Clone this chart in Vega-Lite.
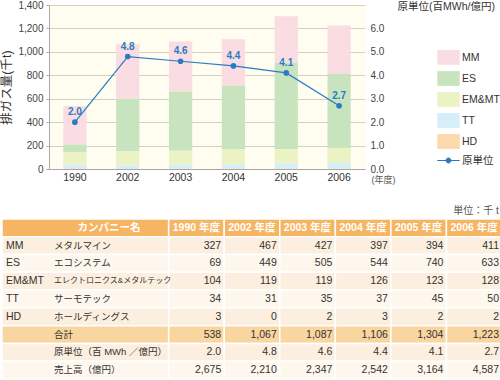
{
  "$schema": "https://vega.github.io/schema/vega-lite/v6.json",
  "padding": 0,
  "config": {
    "font": "Liberation Sans, Noto Sans CJK JP",
    "view": {"stroke": null}
  },
  "datasets": {
    "bars": [
      {"year": "1990", "company": "MM", "rank": 5, "value": 327},
      {"year": "1990", "company": "ES", "rank": 4, "value": 69},
      {"year": "1990", "company": "EM&MT", "rank": 3, "value": 104},
      {"year": "1990", "company": "TT", "rank": 2, "value": 34},
      {"year": "1990", "company": "HD", "rank": 1, "value": 3},
      {"year": "2002", "company": "MM", "rank": 5, "value": 467},
      {"year": "2002", "company": "ES", "rank": 4, "value": 449},
      {"year": "2002", "company": "EM&MT", "rank": 3, "value": 119},
      {"year": "2002", "company": "TT", "rank": 2, "value": 31},
      {"year": "2002", "company": "HD", "rank": 1, "value": 0},
      {"year": "2003", "company": "MM", "rank": 5, "value": 427},
      {"year": "2003", "company": "ES", "rank": 4, "value": 505},
      {"year": "2003", "company": "EM&MT", "rank": 3, "value": 119},
      {"year": "2003", "company": "TT", "rank": 2, "value": 35},
      {"year": "2003", "company": "HD", "rank": 1, "value": 2},
      {"year": "2004", "company": "MM", "rank": 5, "value": 397},
      {"year": "2004", "company": "ES", "rank": 4, "value": 544},
      {"year": "2004", "company": "EM&MT", "rank": 3, "value": 126},
      {"year": "2004", "company": "TT", "rank": 2, "value": 37},
      {"year": "2004", "company": "HD", "rank": 1, "value": 3},
      {"year": "2005", "company": "MM", "rank": 5, "value": 394},
      {"year": "2005", "company": "ES", "rank": 4, "value": 740},
      {"year": "2005", "company": "EM&MT", "rank": 3, "value": 123},
      {"year": "2005", "company": "TT", "rank": 2, "value": 45},
      {"year": "2005", "company": "HD", "rank": 1, "value": 2},
      {"year": "2006", "company": "MM", "rank": 5, "value": 411},
      {"year": "2006", "company": "ES", "rank": 4, "value": 633},
      {"year": "2006", "company": "EM&MT", "rank": 3, "value": 128},
      {"year": "2006", "company": "TT", "rank": 2, "value": 50},
      {"year": "2006", "company": "HD", "rank": 1, "value": 2}
    ],
    "unit": [
      {"year": "1990", "unit": 2.0},
      {"year": "2002", "unit": 4.8},
      {"year": "2003", "unit": 4.6},
      {"year": "2004", "unit": 4.4},
      {"year": "2005", "unit": 4.1},
      {"year": "2006", "unit": 2.7}
    ],
    "rows": [
      {"r": 0, "kind": "head", "code": "", "name": "カンパニー名", "v1990": "1990 年度", "v2002": "2002 年度", "v2003": "2003 年度", "v2004": "2004 年度", "v2005": "2005 年度", "v2006": "2006 年度"},
      {"r": 1, "kind": "a", "code": "MM", "name": "メタルマイン", "v1990": "327", "v2002": "467", "v2003": "427", "v2004": "397", "v2005": "394", "v2006": "411"},
      {"r": 2, "kind": "b", "code": "ES", "name": "エコシステム", "v1990": "69", "v2002": "449", "v2003": "505", "v2004": "544", "v2005": "740", "v2006": "633"},
      {"r": 3, "kind": "a", "code": "EM&MT", "name": "エレクトロニクス&メタルテック", "v1990": "104", "v2002": "119", "v2003": "119", "v2004": "126", "v2005": "123", "v2006": "128"},
      {"r": 4, "kind": "b", "code": "TT", "name": "サーモテック", "v1990": "34", "v2002": "31", "v2003": "35", "v2004": "37", "v2005": "45", "v2006": "50"},
      {"r": 5, "kind": "a", "code": "HD", "name": "ホールディングス", "v1990": "3", "v2002": "0", "v2003": "2", "v2004": "3", "v2005": "2", "v2006": "2"},
      {"r": 6, "kind": "total", "code": "", "name": "合計", "v1990": "538", "v2002": "1,067", "v2003": "1,087", "v2004": "1,106", "v2005": "1,304", "v2006": "1,223"},
      {"r": 7, "kind": "a", "code": "", "name": "原単位（百 MWh ／億円）", "v1990": "2.0", "v2002": "4.8", "v2003": "4.6", "v2004": "4.4", "v2005": "4.1", "v2006": "2.7"},
      {"r": 8, "kind": "b", "code": "", "name": "売上高（億円）", "v1990": "2,675", "v2002": "2,210", "v2003": "2,347", "v2004": "2,542", "v2005": "3,164", "v2006": "4,587"}
    ],
    "cols": [
      {"col": "v1990", "c0": 3, "c1": 4},
      {"col": "v2002", "c0": 4, "c1": 5},
      {"col": "v2003", "c0": 5, "c1": 6},
      {"col": "v2004", "c0": 6, "c1": 7},
      {"col": "v2005", "c0": 7, "c1": 8},
      {"col": "v2006", "c0": 8, "c1": 9}
    ]
  },
  "concat": [
    {
      "width": 316,
      "height": 164,
      "view": {"fill": "#fffdf0", "stroke": null},
      "encoding": {
        "x": {
          "field": "year", "type": "nominal", "title": "(年度)",
          "scale": {"paddingInner": 0.56, "paddingOuter": 0.27},
          "axis": {"labelAngle": 0, "labelFontSize": 10.5, "labelColor": "#333", "ticks": false, "domainColor": "#a8a8a0", "labelPadding": 3, "titleX": 322, "titleY": 10, "titleAlign": "left", "titleBaseline": "middle", "titleFontSize": 9, "titleFontWeight": "normal", "titleColor": "#555"}
        }
      },
      "layer": [
        {
          "data": {"name": "bars"},
          "mark": {"type": "bar"},
          "encoding": {
            "y": {
              "field": "value", "type": "quantitative", "stack": "zero", "title": "排ガス量(千t)",
              "scale": {"domain": [0, 1400]},
              "axis": {"values": [0, 200, 400, 600, 800, 1000, 1200, 1400], "format": ",d", "labelFontSize": 10, "labelColor": "#444", "labelPadding": 3, "tickSize": 3, "tickColor": "#aaa", "domainColor": "#aaa", "gridColor": "#d0d0c8", "titleFontSize": 12.5, "titleFontWeight": "normal", "titleColor": "#333", "titlePadding": 4}
            },
            "color": {
              "field": "company", "type": "nominal",
              "scale": {"domain": ["MM", "ES", "EM&MT", "TT", "HD", "原単位"], "range": ["#f9dde2", "#c8e4bf", "#ebf2c4", "#d5eefa", "#fbd9aa", "#2b7bc3"]},
              "legend": {
                "orient": "none", "legendX": 392, "legendY": 45, "title": null, "padding": 0,
                "labelFontSize": 10.5, "labelColor": "#333", "symbolSize": 196, "rowPadding": 2, "labelOffset": 6,
                "encode": {
                  "symbols": {
                    "update": {
                      "shape": {"signal": "datum.value === '原単位' ? 'M-1.6,0H1.6M0.36,0A0.36,0.36 0 1,1 -0.36,0A0.36,0.36 0 1,1 0.36,0' : 'M-1.6,-1.05H1.6V1.05H-1.6Z'"},
                      "fill": {"signal": "{'MM':'#f9dde2','ES':'#c8e4bf','EM&MT':'#ebf2c4','TT':'#d5eefa','HD':'#fbd9aa','原単位':'#2b7bc3'}[datum.value]"},
                      "stroke": {"signal": "datum.value === '原単位' ? '#2b7bc3' : 'transparent'"},
                      "strokeWidth": {"value": 1},
                      "opacity": {"value": 1}
                    }
                  }
                }
              }
            },
            "order": {"field": "rank", "type": "quantitative"}
          }
        },
        {
          "data": {"name": "unit"},
          "encoding": {
            "y": {
              "field": "unit", "type": "quantitative", "title": "原単位(百MWh/億円)",
              "scale": {"domain": [0, 7]},
              "axis": {"orient": "right", "values": [0, 1, 2, 3, 4, 5, 6], "format": ".1f", "grid": false, "domain": false, "ticks": false, "labelPadding": 5, "labelFontSize": 10, "labelColor": "#444", "titleAngle": 0, "titleX": 32, "titleY": 1, "titleAlign": "left", "titleBaseline": "middle", "titleFontSize": 10.5, "titleFontWeight": "normal", "titleColor": "#333"}
            }
          },
          "layer": [
            {"mark": {"type": "line", "color": "#2b7bc3", "strokeWidth": 1.2}},
            {"mark": {"type": "circle", "color": "#2b7bc3", "size": 32, "opacity": 1}},
            {"mark": {"type": "text", "color": "#2b7bc3", "fontWeight": "bold", "fontSize": 10, "dy": -10}, "encoding": {"text": {"field": "unit", "format": ".1f"}}}
          ]
        }
      ],
      "resolve": {"scale": {"y": "independent"}}
    },
    {
      "width": 453,
      "height": 160,
      "view": {"stroke": null},
      "title": {"text": "単位：千 t", "anchor": "end", "fontSize": 10, "fontWeight": "normal", "color": "#555", "offset": 2, "dx": -4},
      "data": {"name": "rows"},
      "layer": [
        {
          "mark": {"type": "rect", "stroke": "white", "strokeWidth": 1.5},
          "encoding": {
            "x": {"datum": 0, "type": "quantitative", "scale": {"domain": [0, 9], "nice": false, "range": [-47, 453]}, "axis": null},
            "x2": {"datum": 3},
            "y": {"field": "r", "type": "ordinal", "axis": null, "scale": {"paddingInner": 0, "paddingOuter": 0}},
            "fill": {"field": "kind", "type": "nominal", "legend": null, "scale": {"domain": ["head", "a", "b", "total"], "range": ["#f6b563", "#fcefdf", "#fdf7ee", "#f9d5a0"]}}
          }
        },
        {
          "transform": [
            {"fold": ["v1990", "v2002", "v2003", "v2004", "v2005", "v2006"], "as": ["col", "t"]},
            {"lookup": "col", "from": {"data": {"name": "cols"}, "key": "col", "fields": ["c0", "c1"]}}
          ],
          "layer": [
            {
              "mark": {"type": "rect", "stroke": "white", "strokeWidth": 1.5},
              "encoding": {
                "x": {"field": "c0", "type": "quantitative", "axis": null},
                "x2": {"field": "c1"},
                "y": {"field": "r", "type": "ordinal", "axis": null},
                "fill": {"field": "kind", "type": "nominal", "legend": null}
              }
            },
            {
              "transform": [{"filter": "datum.r > 0"}],
              "mark": {"type": "text", "align": "right", "dx": -3, "fontSize": 10.5, "color": "#333"},
              "encoding": {
                "x": {"field": "c1", "type": "quantitative"},
                "y": {"field": "r", "type": "ordinal"},
                "text": {"field": "t"}
              }
            },
            {
              "transform": [{"filter": "datum.r == 0"}],
              "mark": {"type": "text", "align": "center", "dx": 27.7, "fontSize": 10.5, "fontWeight": "bold", "color": "white"},
              "encoding": {
                "x": {"field": "c0", "type": "quantitative"},
                "y": {"field": "r", "type": "ordinal"},
                "text": {"field": "t"}
              }
            }
          ]
        },
        {
          "transform": [{"filter": "datum.code != ''"}],
          "mark": {"type": "text", "align": "left", "dx": 4, "fontSize": 10.5, "color": "#333"},
          "encoding": {
            "x": {"datum": 0, "type": "quantitative"},
            "y": {"field": "r", "type": "ordinal"},
            "text": {"field": "code"}
          }
        },
        {
          "transform": [{"filter": "datum.r > 0"}],
          "mark": {"type": "text", "align": "left", "dx": -3.5, "color": "#333"},
          "encoding": {
            "x": {"datum": 1, "type": "quantitative"},
            "y": {"field": "r", "type": "ordinal"},
            "text": {"field": "name"},
            "size": {"condition": {"test": "datum.code === 'EM&MT'", "value": 8}, "value": 9.5}
          }
        },
        {
          "transform": [{"filter": "datum.r == 0"}],
          "mark": {"type": "text", "align": "center", "dx": -4, "fontSize": 10.5, "fontWeight": "bold", "color": "white"},
          "encoding": {
            "x": {"datum": 2, "type": "quantitative"},
            "y": {"field": "r", "type": "ordinal"},
            "text": {"field": "name"}
          }
        }
      ]
    }
  ],
  "columns": 1,
  "align": "none",
  "spacing": 22,
  "resolve": {"scale": {"color": "independent", "fill": "independent"}, "legend": {"color": "independent", "fill": "independent"}}
}
